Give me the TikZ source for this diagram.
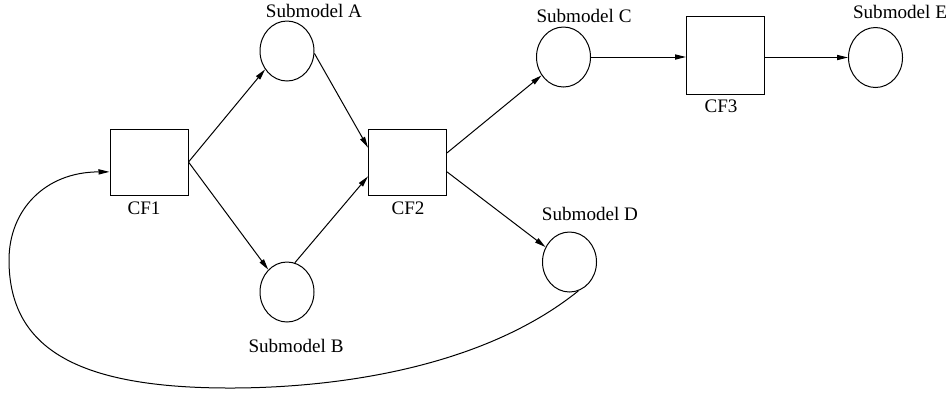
\documentclass[tikz,border=0pt]{standalone}
\usepackage{fontspec}
\setmainfont{Liberation Serif}
\usetikzlibrary{arrows.meta, shapes.geometric}

\begin{document}
\begin{tikzpicture}[
  x=0.5pt, y=-0.5pt,
  every node/.style={font=\fontsize{9.55}{11}\selectfont},
  cfbox/.style={draw, rectangle, minimum width=39pt, minimum height=33pt, inner sep=0pt},
  subm/.style={draw, ellipse, minimum width=27pt, minimum height=30pt, inner sep=0pt},
  lbl/.style={inner sep=0pt},
  line width=0.5pt,
  >={Triangle[length=5.5pt, width=2.6pt]},
]
  \useasboundingbox (0,0) rectangle (951,393);

  % Coupling functions
  \node[cfbox] (cf1) at (149,162) {};
  \node[cfbox] (cf2) at (407.5,162) {};
  \node[cfbox, minimum height=39pt] (cf3) at (725.5,55) {};

  \node[lbl] (cf1lbl) at (144,208.5) {CF1};
  \node[lbl] (cf2lbl) at (408,208.5) {CF2};
  \node[lbl] (cf3lbl) at (721,106) {CF3};

  % Submodels
  \node[subm] (subA) at (287,51) {};
  \node[subm] (subB) at (287,292) {};
  \node[subm] (subC) at (563.5,57) {};
  \node[subm] (subD) at (569.5,262) {};
  \node[subm] (subE) at (875.5,57.5) {};

  \node[lbl] (subAlbl) at (314,11) {Submodel A};
  \node[lbl] (subBlbl) at (296,346) {Submodel B};
  \node[lbl] (subClbl) at (584,16) {Submodel C};
  \node[lbl] (subDlbl) at (590,214) {Submodel D};
  \node[lbl] (subElbl) at (900,12) {Submodel E};

  % Data flow
  \draw[->] (cf1.east) -- (subA.220);
  \draw[->] (cf1.east) -- (subB.130);
  \draw[->] (subA.-5) -- (cf2.160);
  \draw[->] (subB.75) -- (cf2.200);
  \draw[->] (cf2.13) -- (subC.220);
  \draw[->] (cf2.-14) -- (subD.148);
  \draw[->] (subC.east) -- (subC.east -| cf3.west);
  \draw[->] (cf3.east |- subE.west) -- (subE.west);

  % Feedback loop back into CF1
  \draw[->] (subD.287) .. controls (480,370) and (330,388) .. (230,388)
    .. controls (80,388) and (9,350) .. (9,260)
    .. controls (9,210) and (45,172) .. (cf1.194);
\end{tikzpicture}
\end{document}
